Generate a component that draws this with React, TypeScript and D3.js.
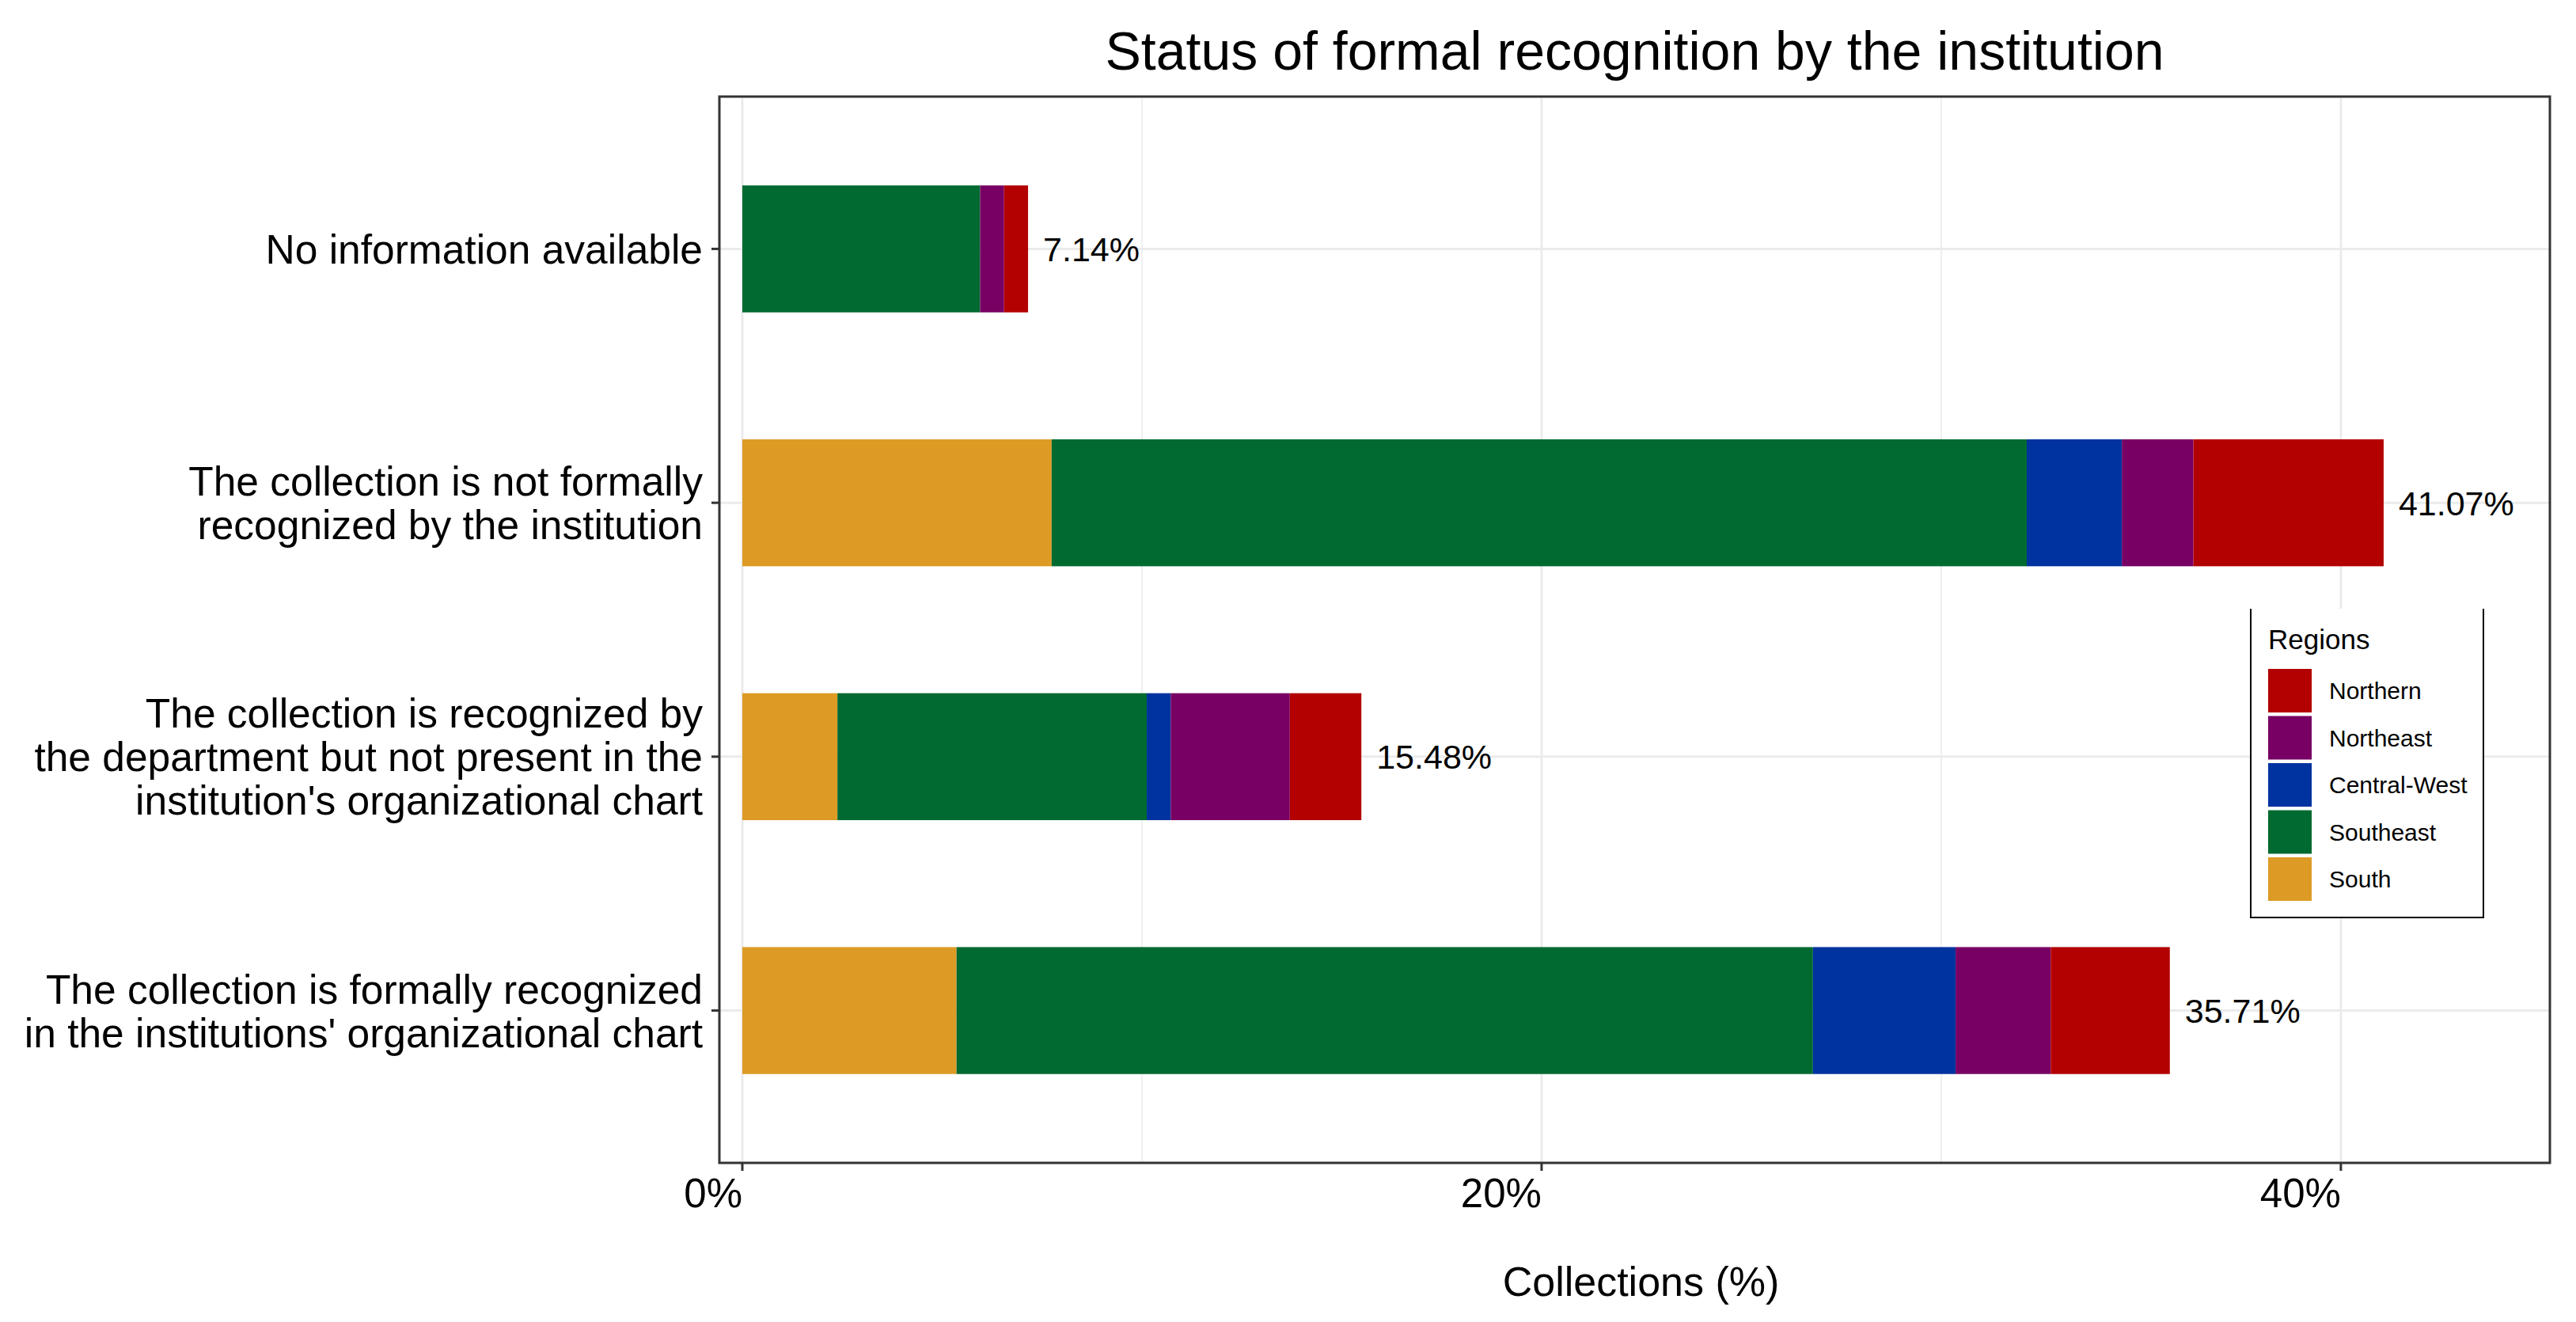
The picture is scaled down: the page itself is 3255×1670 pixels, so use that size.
import React from 'react';
import * as d3 from 'd3';

const W = 3255;
const H = 1670;

// categories, top to bottom
const CATEGORIES = [
  'No information available',
  'The collection is not formally recognized by the institution',
  "The collection is recognized by the department but not present in the institution's organizational chart",
  "The collection is formally recognized in the institutions' organizational chart",
];

// wrapped tick labels for each category
const CATEGORY_LINES = [
  ['No information available'],
  ['The collection is not formally', 'recognized by the institution'],
  ['The collection is recognized by', 'the department but not present in the', "institution's organizational chart"],
  ['The collection is formally recognized', "in the institutions' organizational chart"],
];

// share of collections (%) per region, in category order
const SOUTH = [0, 7.74, 2.38, 5.36];
const SOUTHEAST = [5.95, 24.4, 7.74, 21.43];
const CENTRAL_WEST = [0, 2.38, 0.6, 3.57];
const NORTHEAST = [0.6, 1.79, 2.98, 2.38];
const NORTHERN = [0.6, 4.76, 1.79, 2.98];

const TOTALS = [7.14, 41.07, 15.48, 35.71];

// stacking order, left to right
const REGIONS = ['South', 'Southeast', 'Central-West', 'Northeast', 'Northern'];
const REGION_COLORS = ['#DD9B25', '#006A30', '#0033A0', '#780064', '#B30000'];

const X_TICKS = [0, 20, 40];
const X_MINOR = [10, 30];

const FONT = "'Liberation Sans', Arial, Helvetica, sans-serif";

const margin = { left: 909, right: W - 3222, top: 122, bottom: H - 1469 };

const App: React.FC = () => {
  const rows = CATEGORIES.map((c, i) => ({
    category: c,
    South: SOUTH[i],
    Southeast: SOUTHEAST[i],
    'Central-West': CENTRAL_WEST[i],
    Northeast: NORTHEAST[i],
    Northern: NORTHERN[i],
  }));

  const x = d3.scaleLinear()
    .domain([-0.574, 45.23])
    .range([margin.left, W - margin.right]);

  const y = d3.scaleBand<string>()
    .domain(CATEGORIES)
    .range([margin.top, H - margin.bottom])
    .paddingInner(0.5)
    .paddingOuter(0.35);

  const color = d3.scaleOrdinal<string, string>().domain(REGIONS).range(REGION_COLORS);

  const series = d3.stack<any>().keys(REGIONS)(rows);

  const px0 = margin.left;
  const px1 = W - margin.right;
  const py0 = margin.top;
  const py1 = H - margin.bottom;
  const panelCx = (px0 + px1) / 2;

  // legend layout
  const lgX = 2844;
  const lgRight = 3138;
  const lgTop = 769;
  const lgBottom = 1159;
  const keyX = 2866;
  const keySize = 55;
  const keyStep = 59.5;
  const keyTop = 845;
  const legendOrder = [...REGIONS].reverse();

  return (
    <div style={{ position: 'absolute', left: 0, top: 0 }}>
      <svg width={W} height={H} style={{ display: 'block', background: '#fff' }} fontFamily={FONT}>
        {/* grid */}
        {X_MINOR.map(t => (
          <line key={'mn' + t} x1={x(t)} x2={x(t)} y1={py0} y2={py1} stroke="#EBEBEB" strokeWidth={1.5} />
        ))}
        {X_TICKS.map(t => (
          <line key={'mj' + t} x1={x(t)} x2={x(t)} y1={py0} y2={py1} stroke="#EBEBEB" strokeWidth={3} />
        ))}
        {CATEGORIES.map(c => (
          <line key={'hg' + c} x1={px0} x2={px1} y1={y(c)! + y.bandwidth() / 2} y2={y(c)! + y.bandwidth() / 2} stroke="#EBEBEB" strokeWidth={3} />
        ))}

        {/* bars */}
        {series.map(s => (
          <g key={s.key} fill={color(s.key)}>
            {s.map((d, i) => (
              <rect
                key={i}
                x={x(d[0])}
                width={Math.max(0, x(d[1]) - x(d[0]))}
                y={y(d.data.category)!}
                height={y.bandwidth()}
              />
            ))}
          </g>
        ))}

        {/* total labels */}
        {CATEGORIES.map((c, i) => {
          const end = series[series.length - 1][i][1];
          return (
            <text key={'tl' + c} x={x(end) + 19} y={y(c)! + y.bandwidth() / 2} dy="0.36em" fontSize={43} fill="#000">
              {TOTALS[i].toFixed(2)}%
            </text>
          );
        })}

        {/* panel border */}
        <rect x={px0} y={py0} width={px1 - px0} height={py1 - py0} fill="none" stroke="#333333" strokeWidth={3} />

        {/* x axis */}
        {X_TICKS.map(t => (
          <g key={'xt' + t}>
            <line x1={x(t)} x2={x(t)} y1={py1} y2={py1 + 10} stroke="#333333" strokeWidth={3} />
            <text x={x(t)} y={1525} textAnchor="end" fontSize={51} fill="#000">{t}%</text>
          </g>
        ))}
        <text x={panelCx + 8} y={1637} textAnchor="middle" fontSize={52} fill="#000">Collections (%)</text>

        {/* y axis */}
        {CATEGORIES.map((c, i) => {
          const cy = y(c)! + y.bandwidth() / 2;
          const lines = CATEGORY_LINES[i];
          const lh = 55;
          const first = cy - ((lines.length - 1) * lh) / 2;
          return (
            <g key={'yt' + c}>
              <line x1={px0 - 10} x2={px0} y1={cy} y2={cy} stroke="#333333" strokeWidth={3} />
              <text x={888} textAnchor="end" fontSize={51.5} fill="#000">
                {lines.map((l, j) => (
                  <tspan key={j} x={888} y={first + j * lh} dy="0.36em">{l}</tspan>
                ))}
              </text>
            </g>
          );
        })}

        {/* title */}
        <text x={panelCx} y={88} textAnchor="middle" fontSize={68} fill="#000">
          Status of formal recognition by the institution
        </text>

        {/* legend */}
        <rect x={lgX} y={lgTop} width={lgRight - lgX} height={lgBottom - lgTop} fill="#fff" />
        <path
          d={`M${lgX},${lgTop}V${lgBottom}H${lgRight}V${lgTop}`}
          fill="none"
          stroke="#000"
          strokeWidth={2}
        />
        <text x={keyX} y={820} fontSize={35} fill="#000">Regions</text>
        {legendOrder.map((r, i) => (
          <g key={'lg' + r}>
            <rect x={keyX} y={keyTop + i * keyStep} width={keySize} height={keySize} fill={color(r)} />
            <text x={2943} y={keyTop + i * keyStep + keySize / 2} dy="0.36em" fontSize={30} fill="#000">{r}</text>
          </g>
        ))}
      </svg>
    </div>
  );
};

export default App;
